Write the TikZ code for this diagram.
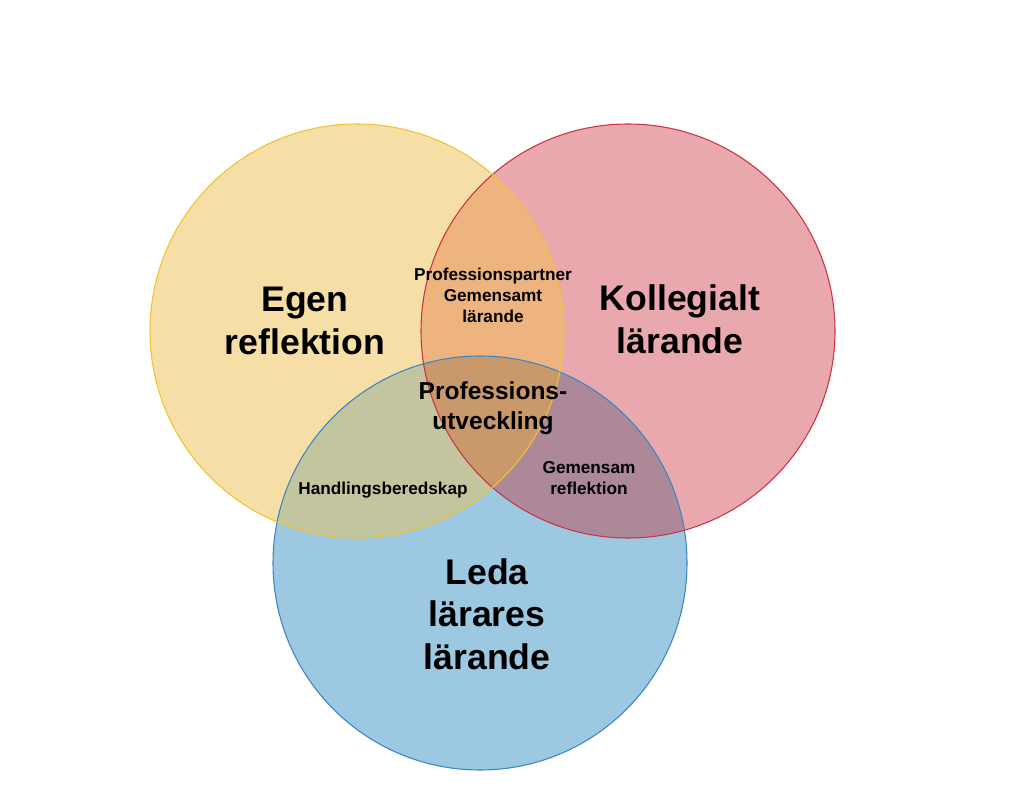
\documentclass[tikz,border=0pt]{standalone}
\usepackage{fontspec}
\setmainfont{Liberation Sans}
\definecolor{yfill}{HTML}{F5DFA6}
\definecolor{rfill}{HTML}{E9A8AE}
\definecolor{bfill}{HTML}{9DC8E2}
\definecolor{yrfill}{HTML}{EEB47F}
\definecolor{ybfill}{HTML}{C2C59D}
\definecolor{rbfill}{HTML}{AC8899}
\definecolor{allfill}{HTML}{C9996C}
\definecolor{yline}{HTML}{F1C232}
\definecolor{rline}{HTML}{CC3344}
\definecolor{bline}{HTML}{3D85C6}
\tikzset{
  big/.style={font=\bfseries\fontsize{26.7}{32}\selectfont, align=center},
  small/.style={font=\bfseries\fontsize{12.9}{15.75}\selectfont, align=center},
  mid/.style={font=\bfseries\fontsize{18.4}{22.5}\selectfont, align=center},
}
\begin{document}
\begin{tikzpicture}[x=0.75pt,y=-0.75pt]
\useasboundingbox (0,0) rectangle (1024,791);
\def\R{155.25pt}
\coordinate (cy) at (357,331);
\coordinate (cr) at (628,331);
\coordinate (cb) at (480,563);
% base fills
\fill[yfill] (cy) circle[radius=\R];
\fill[rfill] (cr) circle[radius=\R];
\fill[bfill] (cb) circle[radius=\R];
% pairwise
\begin{scope}
  \clip (cy) circle[radius=\R];
  \fill[yrfill] (cr) circle[radius=\R];
  \fill[ybfill] (cb) circle[radius=\R];
\end{scope}
\begin{scope}
  \clip (cr) circle[radius=\R];
  \fill[rbfill] (cb) circle[radius=\R];
\end{scope}
\begin{scope}
  \clip (cy) circle[radius=\R];
  \clip (cr) circle[radius=\R];
  \fill[allfill] (cb) circle[radius=\R];
\end{scope}
% outlines
\draw[bline, line width=0.8pt] (cb) circle[radius=\R];
\draw[rline, line width=0.8pt] (cr) circle[radius=\R];
\draw[yline, line width=0.8pt] (cy) circle[radius=\R];
% labels
\node[big] (egen) at (305,321) {Egen\\reflektion};
\node[big] (koll) at (680,319) {Kollegialt\\lärande};
\node[big] (leda) at (487,614) {Leda\\lärares\\lärande};
\node[small] (pp) at (493,295) {Professionspartner\\Gemensamt\\lärande};
\node[mid] (pu) at (493,408) {Professions-\\utveckling};
\node[small] (hb) at (383,490) {Handlingsberedskap};
\node[small] (gr) at (589,478) {Gemensam\\reflektion};
\end{tikzpicture}
\end{document}
